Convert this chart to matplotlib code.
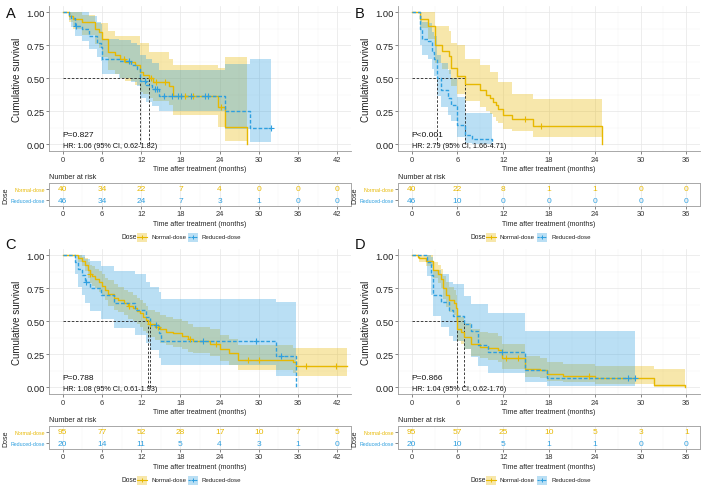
import numpy as np
import matplotlib
matplotlib.use('Agg')
import matplotlib.pyplot as plt
from matplotlib.patches import Rectangle
from matplotlib.lines import Line2D
from matplotlib.ticker import MultipleLocator

plt.rcParams['font.family'] = ['Liberation Sans', 'DejaVu Sans']

GOLD = '#E7B800'
BLUE = '#2E9FDF'

# ---------------- Panel A ----------------
tA_n = [0, 1.0, 1.5, 3.0, 5.0, 5.5, 6.0, 7.0, 8.0, 8.7, 9.5, 11.0, 11.8, 12.3, 13.2, 13.8, 16.3, 16.9, 23.7, 24.8, 28.2]
sA_n = [1.0, 0.975, 0.95, 0.925, 0.875, 0.85, 0.80, 0.70, 0.675, 0.65, 0.625, 0.60, 0.55, 0.525, 0.50, 0.475, 0.44, 0.37, 0.28, 0.135, 0.0]
upA_n = [1.0, 1.0, 1.0, 0.98, 0.92, 0.92, 0.92, 0.86, 0.82, 0.82, 0.82, 0.82, 0.77, 0.77, 0.70, 0.70, 0.65, 0.60, 0.58, 0.66, 0.66]
loA_n = [1.0, 0.93, 0.87, 0.83, 0.76, 0.73, 0.66, 0.56, 0.53, 0.50, 0.48, 0.45, 0.40, 0.38, 0.35, 0.33, 0.30, 0.22, 0.13, 0.03, 0.03]
cA_n = [9.3, 13.5, 14.2, 15.7, 18.7, 19.9, 24.2]

tA_r = [0, 0.9, 1.2, 1.9, 3.0, 4.0, 5.2, 5.8, 6.0, 8.6, 10.5, 11.3, 11.8, 12.8, 13.7, 14.8, 24.8, 28.7, 31.8]
sA_r = [1.0, 0.978, 0.955, 0.90, 0.87, 0.82, 0.77, 0.74, 0.65, 0.63, 0.60, 0.57, 0.48, 0.45, 0.42, 0.37, 0.25, 0.125, 0.125]
upA_r = [1.0, 1.0, 1.0, 1.0, 1.0, 0.97, 0.93, 0.91, 0.80, 0.79, 0.77, 0.75, 0.68, 0.65, 0.62, 0.56, 0.61, 0.65, 0.65]
loA_r = [1.0, 0.94, 0.89, 0.82, 0.78, 0.72, 0.66, 0.63, 0.53, 0.50, 0.47, 0.44, 0.35, 0.32, 0.29, 0.25, 0.12, 0.02, 0.02]
cA_r = [2.0, 10.2, 12.6, 14.1, 14.4, 15.5, 16.7, 17.6, 18.1, 19.6, 21.7, 22.2, 31.8]

riskA_n = [40, 34, 22, 7, 4, 0, 0, 0]
riskA_r = [46, 34, 24, 7, 3, 1, 0, 0]

# ---------------- Panel B ----------------
tB_n = [0, 1.1, 2.1, 3.0, 4.0, 4.9, 5.1, 5.9, 7.0, 8.9, 9.8, 10.25, 10.7, 11.1, 11.3, 12.0, 13.1, 15.9, 24.9]
sB_n = [1.0, 0.95, 0.90, 0.75, 0.71, 0.67, 0.575, 0.52, 0.46, 0.41, 0.375, 0.35, 0.325, 0.30, 0.27, 0.225, 0.19, 0.14, 0.0]
upB_n = [1.0, 1.0, 1.0, 0.90, 0.90, 0.86, 0.77, 0.75, 0.65, 0.60, 0.60, 0.55, 0.55, 0.55, 0.47, 0.47, 0.38, 0.345, 0.345]
loB_n = [1.0, 0.88, 0.80, 0.62, 0.57, 0.53, 0.44, 0.38, 0.33, 0.28, 0.25, 0.23, 0.21, 0.18, 0.16, 0.12, 0.10, 0.055, 0.055]
cB_n = [14.8, 16.9]

tB_r = [0, 1.1, 1.4, 2.1, 2.6, 2.9, 3.3, 3.8, 4.8, 5.2, 5.9, 7.0, 7.9, 10.5]
sB_r = [1.0, 0.87, 0.80, 0.78, 0.70, 0.65, 0.50, 0.41, 0.35, 0.30, 0.15, 0.07, 0.04, 0.0]
upB_r = [1.0, 0.97, 0.93, 0.92, 0.85, 0.82, 0.68, 0.62, 0.56, 0.50, 0.36, 0.24, 0.24, 0.24]
loB_r = [1.0, 0.75, 0.68, 0.65, 0.57, 0.52, 0.37, 0.28, 0.22, 0.18, 0.06, 0.015, 0.005, 0.0]
cB_r = []

riskB_n = [40, 22, 8, 1, 1, 0, 0]
riskB_r = [46, 10, 0, 0, 0, 0, 0]

# ---------------- Panel C ----------------
tC_n = [0, 2.4, 2.9, 3.45, 3.8, 4.1, 4.5, 5.0, 5.5, 6.0, 6.5, 7.0, 7.8, 8.5, 9.3, 10.0, 10.8, 11.3, 11.8, 12.3,
        12.8, 13.1, 14.1, 14.9, 15.8, 16.9, 18.2, 19.2, 19.9, 22.5, 24.0, 25.5, 26.8, 35.2, 35.7, 43.5]
sC_n = [1.0, 0.98, 0.96, 0.93, 0.89, 0.86, 0.84, 0.82, 0.80, 0.77, 0.74, 0.71, 0.68, 0.66, 0.64, 0.62, 0.60, 0.58, 0.56, 0.53,
        0.51, 0.48, 0.46, 0.44, 0.42, 0.41, 0.39, 0.37, 0.35, 0.33, 0.29, 0.26, 0.21, 0.19, 0.16, 0.16]
upC_n = [1.0, 1.0, 0.99, 0.98, 0.95, 0.93, 0.92, 0.90, 0.88, 0.86, 0.83, 0.81, 0.78, 0.76, 0.74, 0.72, 0.70, 0.68, 0.66, 0.64,
         0.62, 0.59, 0.57, 0.55, 0.53, 0.52, 0.50, 0.48, 0.46, 0.44, 0.40, 0.37, 0.32, 0.30, 0.30, 0.30]
loC_n = [1.0, 0.95, 0.92, 0.88, 0.83, 0.79, 0.77, 0.75, 0.72, 0.69, 0.66, 0.62, 0.59, 0.57, 0.55, 0.52, 0.50, 0.48, 0.46, 0.43,
         0.41, 0.38, 0.36, 0.34, 0.32, 0.31, 0.29, 0.27, 0.26, 0.24, 0.20, 0.17, 0.13, 0.11, 0.09, 0.09]
cC_n = [4.2, 10.2, 13.4, 14.5, 19.5, 23.5, 28.3, 30.1, 37.2, 41.8]

tC_r = [0, 1.9, 2.3, 3.0, 3.4, 4.2, 5.9, 7.8, 11.1, 12.8, 13.3, 14.8, 15.1, 32.6, 35.7]
sC_r = [1.0, 0.95, 0.90, 0.85, 0.80, 0.75, 0.70, 0.64, 0.59, 0.53, 0.47, 0.41, 0.35, 0.235, 0.0]
upC_r = [1.0, 1.0, 1.0, 1.0, 0.97, 0.96, 0.92, 0.88, 0.86, 0.80, 0.76, 0.72, 0.67, 0.65, 0.65]
loC_r = [1.0, 0.86, 0.76, 0.70, 0.64, 0.58, 0.52, 0.45, 0.40, 0.34, 0.28, 0.22, 0.17, 0.085, 0.0]
cC_r = [3.6, 14.3, 21.4, 29.6, 33.4]

riskC_n = [95, 77, 52, 28, 17, 10, 7, 5]
riskC_r = [20, 14, 11, 5, 4, 3, 1, 0]

# ---------------- Panel D ----------------
tD_n = [0, 0.8, 1.0, 1.9, 2.75, 3.4, 3.85, 4.1, 4.5, 4.9, 5.5, 5.8, 5.95, 6.5, 6.9, 7.8, 8.9, 10.0, 11.3, 11.9,
        14.9, 16.8, 17.8, 19.8, 24.0, 31.8, 35.8]
sD_n = [1.0, 0.99, 0.98, 0.96, 0.89, 0.86, 0.82, 0.75, 0.70, 0.66, 0.64, 0.60, 0.44, 0.42, 0.38, 0.33, 0.31, 0.30, 0.28, 0.22,
        0.14, 0.13, 0.10, 0.09, 0.07, 0.02, 0.0]
upD_n = [1.0, 1.0, 1.0, 1.0, 0.95, 0.93, 0.90, 0.84, 0.80, 0.76, 0.74, 0.70, 0.55, 0.53, 0.49, 0.44, 0.42, 0.41, 0.39, 0.33,
         0.24, 0.22, 0.19, 0.18, 0.16, 0.14, 0.14]
loD_n = [1.0, 0.97, 0.95, 0.92, 0.83, 0.79, 0.75, 0.67, 0.61, 0.57, 0.55, 0.50, 0.35, 0.33, 0.29, 0.24, 0.22, 0.21, 0.19, 0.14,
         0.08, 0.07, 0.05, 0.04, 0.03, 0.005, 0.0]
cD_n = [12.4, 13.9, 23.3]

tD_r = [0, 2.0, 2.5, 2.85, 3.85, 4.9, 5.4, 6.9, 7.8, 8.7, 10.0, 14.9, 17.8, 29.3]
sD_r = [1.0, 0.95, 0.85, 0.70, 0.65, 0.59, 0.54, 0.48, 0.43, 0.32, 0.27, 0.13, 0.07, 0.07]
upD_r = [1.0, 1.0, 0.99, 0.89, 0.86, 0.80, 0.78, 0.69, 0.63, 0.63, 0.56, 0.43, 0.43, 0.43]
loD_r = [1.0, 0.84, 0.70, 0.54, 0.46, 0.39, 0.35, 0.29, 0.23, 0.16, 0.11, 0.04, 0.01, 0.01]
cD_r = [11.8, 28.3, 29.3]

riskD_n = [95, 57, 25, 10, 5, 3, 1]
riskD_r = [20, 10, 5, 1, 1, 0, 0]

p_texts = ['P=0.827', 'P<0.001', 'P=0.788', 'P=0.866']
hr_texts = ['HR: 1.06 (95% CI, 0.62-1.82)', 'HR: 2.79 (95% CI, 1.66-4.71)',
            'HR: 1.08 (95% CI, 0.61-1.93)', 'HR: 1.04 (95% CI, 0.62-1.76)']
letters = ['A', 'B', 'C', 'D']
group_labels = ['Normal-dose', 'Reduced-dose']
y_ticks = [0.0, 0.25, 0.50, 0.75, 1.00]
y_ticklabels = ['0.00', '0.25', '0.50', '0.75', '1.00']
x_title = 'Time after treatment (months)'

# ---------------- drawing ----------------
W, H = 703, 489
fig = plt.figure(figsize=(W / 100, H / 100), dpi=100)


def rect(x0, y0, x1, y1):
    return [x0 / W, 1 - y1 / H, (x1 - x0) / W, (y1 - y0) / H]


def fx(x):
    return x / W


def fy(y):
    return 1 - y / H


def step_at(t, s, c):
    idx = np.searchsorted(np.asarray(t), np.asarray(c), side='right') - 1
    return np.asarray(s)[idx]


def median(t, s):
    s = np.asarray(s)
    return np.asarray(t)[np.argmax(s <= 0.5)]


def km(ax, t, s, lo, up, cens, color, dashed):
    ax.fill_between(t, lo, up, step='post', color=color, alpha=0.33, lw=0, zorder=1)
    ln, = ax.step(t, s, where='post', color=color, lw=1.0, zorder=4)
    if dashed:
        ln.set_dashes((2.6, 1.4))
    if len(cens):
        ax.plot(cens, step_at(t, s, cens), ls='none', marker='+', color=color,
                ms=4, mew=0.8, zorder=5)


def style_axes(ax, xmax):
    ax.set_xlim(-0.05 * xmax, 1.05 * xmax)
    ax.xaxis.set_major_locator(MultipleLocator(6))
    ax.xaxis.set_minor_locator(MultipleLocator(3))
    ax.grid(which='major', color='#E6E6E6', lw=0.5, zorder=0)
    ax.grid(which='minor', color='#F3F3F3', lw=0.35, zorder=0)
    ax.tick_params(which='minor', length=0)
    ax.tick_params(which='major', length=2, width=0.5, color='#555555', pad=1.2,
                   labelsize=5.4, labelcolor='#333333')
    ax.set_axisbelow(True)


def legend(x, y):
    fig.text(fx(x), fy(y), 'Dose', fontsize=4.8, ha='left', va='center', color='#222222')
    pos = [(x + 15, 'Normal-dose', GOLD, False), (x + 66, 'Reduced-dose', BLUE, True)]
    for kx, lab, col, dashed in pos:
        fig.add_artist(Rectangle((fx(kx), fy(y + 4.5)), 10 / W, 9 / H, transform=fig.transFigure,
                                 facecolor=col, alpha=0.33, lw=0))
        l = Line2D([fx(kx), fx(kx + 10)], [fy(y), fy(y)], transform=fig.transFigure,
                   color=col, lw=0.8)
        if dashed:
            l.set_dashes((2, 1))
        fig.add_artist(l)
        fig.add_artist(Line2D([fx(kx + 5)], [fy(y)], transform=fig.transFigure, color=col,
                              marker='+', ms=3.5, mew=0.7, ls='none'))
        fig.text(fx(kx + 14), fy(y), lab, fontsize=4.4, ha='left', va='center', color='#222222')


panels = [
    dict(curves=[(tA_n, sA_n, loA_n, upA_n, cA_n), (tA_r, sA_r, loA_r, upA_r, cA_r)],
         risk=(riskA_n, riskA_r), xmax=42, x0=49, x1=351, ytop=6.7, rt=184),
    dict(curves=[(tB_n, sB_n, loB_n, upB_n, cB_n), (tB_r, sB_r, loB_r, upB_r, cB_r)],
         risk=(riskB_n, riskB_r), xmax=36, x0=398, x1=700, ytop=6.7, rt=184),
    dict(curves=[(tC_n, sC_n, loC_n, upC_n, cC_n), (tC_r, sC_r, loC_r, upC_r, cC_r)],
         risk=(riskC_n, riskC_r), xmax=42, x0=49, x1=351, ytop=249.7, rt=427),
    dict(curves=[(tD_n, sD_n, loD_n, upD_n, cD_n), (tD_r, sD_r, loD_r, upD_r, cD_r)],
         risk=(riskD_n, riskD_r), xmax=36, x0=398, x1=700, ytop=249.7, rt=427),
]
colors = [GOLD, BLUE]

for i, p in enumerate(panels):
    ax = fig.add_axes(rect(p['x0'], p['ytop'], p['x1'], p['ytop'] + 145.4))
    style_axes(ax, p['xmax'])
    ax.set_ylim(-0.05, 1.05)
    ax.set_yticks(y_ticks)
    ax.set_yticklabels(y_ticklabels)
    ax.yaxis.set_minor_locator(MultipleLocator(0.125))
    ax.tick_params(axis='y', which='major', labelsize=6.7, labelcolor='#222222', pad=1.0)
    for sp in ['top', 'right']:
        ax.spines[sp].set_visible(False)
    for sp in ['left', 'bottom']:
        ax.spines[sp].set_color('#9A9A9A')
        ax.spines[sp].set_linewidth(0.6)
    ax.set_ylabel('Cumulative survival', fontsize=7, labelpad=3, color='#222222')
    ax.set_xlabel(x_title, fontsize=5, labelpad=1.5, color='#222222')

    meds = []
    for (t, s, lo, up, cens), col, dashed in zip(p['curves'], colors, [False, True]):
        km(ax, t, s, lo, up, cens, col, dashed)
        meds.append(median(t, s))
    mk = dict(color='#222222', lw=0.6, dashes=(3, 2), zorder=3)
    ax.plot([0, max(meds)], [0.5, 0.5], **mk)
    for m in meds:
        ax.plot([m, m], [0, 0.5], **mk)

    ax.text(0, 0.075, p_texts[i], fontsize=6, ha='left', va='center', color='#111111', zorder=6)
    ax.text(0, -0.005, hr_texts[i], fontsize=5.2, ha='left', va='center', color='#111111', zorder=6)

    fig.text(fx(p['x0'] - 38), fy(p['ytop'] + (7 if i < 2 else -5)), letters[i],
             fontsize=10.5, ha='center', va='center', color='#111111')

    # risk table
    rt = p['rt']
    ar = fig.add_axes(rect(p['x0'], rt, p['x1'], rt + 23))
    style_axes(ar, p['xmax'])
    ar.set_ylim(-0.5, 1.5)
    ar.set_yticks([0, 1])
    ar.set_yticklabels([group_labels[1], group_labels[0]])
    ar.tick_params(axis='y', labelsize=3.8, pad=1.0)
    for lab, col in zip(ar.get_yticklabels(), [BLUE, GOLD]):
        lab.set_color(col)
    ar.grid(False, axis='y', which='both')
    for sp in ar.spines.values():
        sp.set_color('#A8A8A8')
        sp.set_linewidth(0.7)
    times = np.arange(0, p['xmax'] + 1, 6)
    for row, vals, col in [(1, p['risk'][0], GOLD), (0, p['risk'][1], BLUE)]:
        for tt, v in zip(times, vals):
            ar.text(tt, row, str(v), fontsize=6, ha='center', va='center', color=col)
    ar.set_xlabel(x_title, fontsize=5, labelpad=1.5, color='#222222')
    ar.set_ylabel('Dose', fontsize=5.0, color='#222222')
    lx = (2.0 if p['x0'] < 100 else 351.5)
    ar.yaxis.set_label_coords((lx - p['x0']) / (p['x1'] - p['x0']), 0.5)
    ar.yaxis.label.set_verticalalignment('top')
    ar.set_title('Number at risk', loc='left', fontsize=5.2, pad=3.5, color='#222222')

    legend(p['x0'] + 73, rt + 54)

fig.savefig('out.png', dpi=100, facecolor='white')
